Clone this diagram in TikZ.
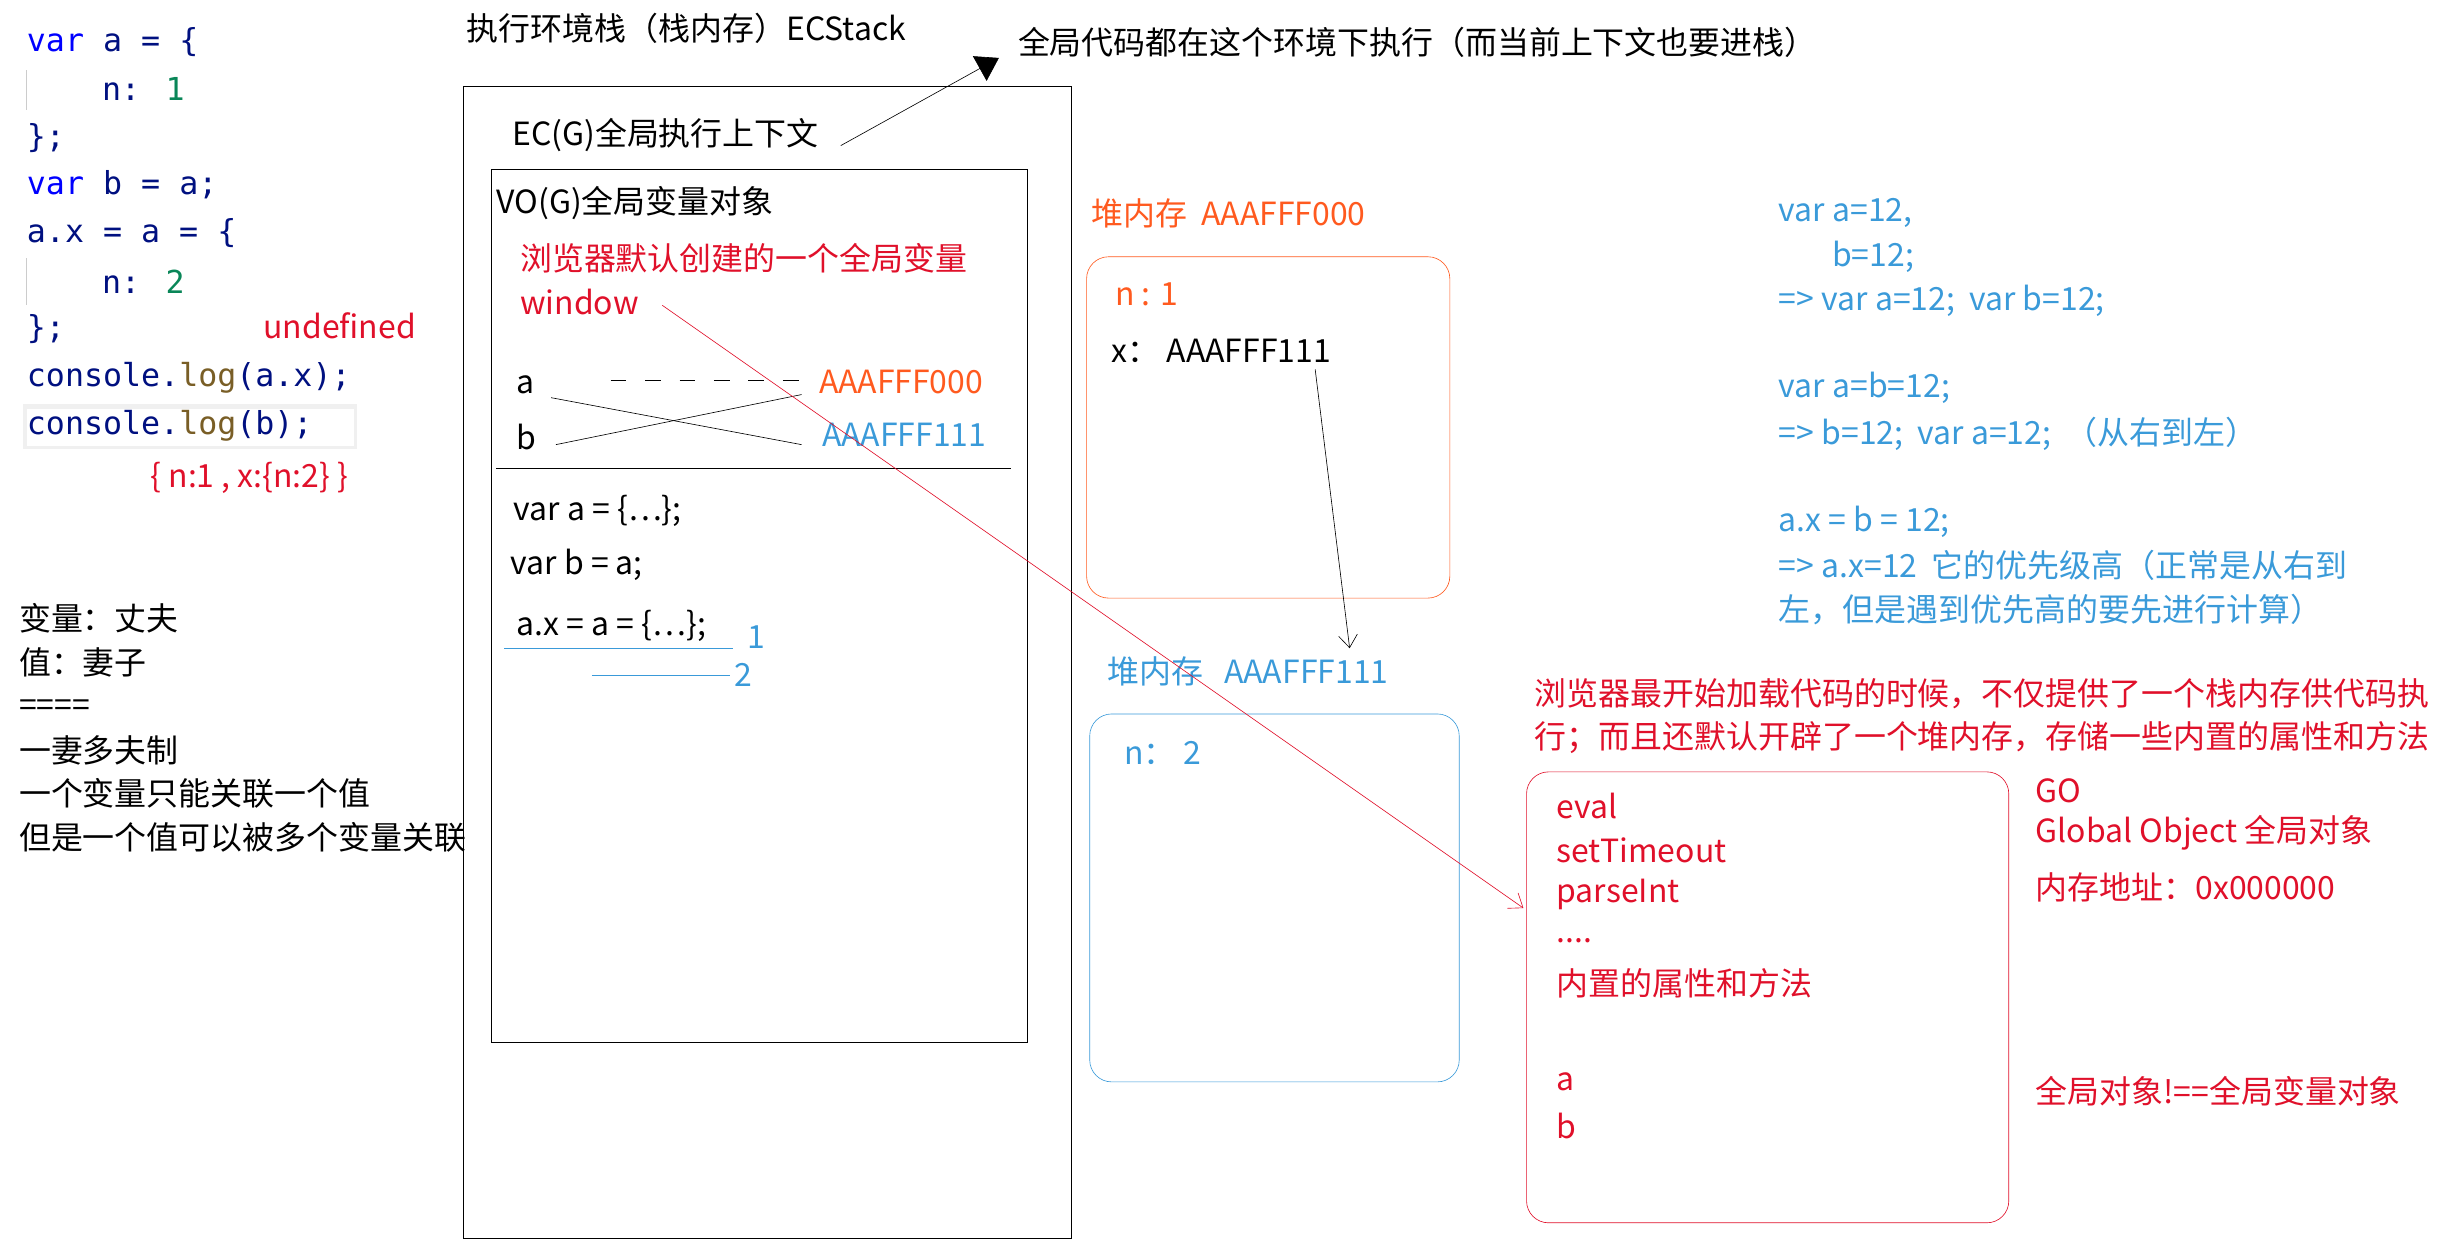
\documentclass[tikz,border=0pt]{standalone}
\usepackage{fontspec}
\setmainfont{Noto Sans CJK SC}
\newfontfamily\codefont{DejaVu Sans Mono}
\usetikzlibrary{arrows.meta}
\definecolor{cblue}{HTML}{3A9AD9}
\definecolor{corange}{HTML}{FF5A1F}
\definecolor{cred}{HTML}{E0102A}
\definecolor{kw}{HTML}{0000FF}
\definecolor{num}{HTML}{098658}
\definecolor{fn}{HTML}{795E26}
\definecolor{idn}{HTML}{001080}
\tikzset{
 t/.style={anchor=west,inner sep=0pt,font=\fontsize{20.4}{22}\selectfont},
 cd/.style={anchor=west,inner sep=0pt,font=\codefont\fontsize{20.2}{22}\selectfont,text=idn},
}
\begin{document}
\begin{tikzpicture}[x=1pt,y=-1pt]
\useasboundingbox (0,0) rectangle (1568,799);
% code
\fill[gray!12] (15,258) rectangle (228,287);
\fill[white] (17,261) rectangle (226,285);
\draw[gray!40] (17,45) -- (17,70) (17,165) -- (17,195);
\node[cd] (c1) at (17,27) {\textcolor{kw}{var} a = \{};
\node[cd] (c2) at (65,57) {n: \textcolor{num}{1}};
\node[cd] (c3) at (17,88) {\};};
\node[cd] (c4) at (17,118) {\textcolor{kw}{var} b = a;};
\node[cd] (c5) at (17,149) {a.x = a = \{};
\node[cd] (c6) at (65,180) {n: \textcolor{num}{2}};
\node[cd] (c7) at (17,210) {\};};
\node[cd] (c8) at (17,241) {console.\textcolor{fn}{log}(a.x);};
\node[cd] (c9) at (17,272) {console.\textcolor{fn}{log}(b);};
\node[t,text=cred] (undef) at (168,208) {undefined};
\node[t,text=cred] (res) at (96,305) {\{ n:1 , x:\{n:2\} \}};
% left notes
\node[t] (l1) at (12,395) {变量：丈夫};
\node[t] (l2) at (12,423) {值：妻子};
\node[t] (l3) at (12,452) {====};
\node[t] (l4) at (12,479) {一妻多夫制};
\node[t] (l5) at (12,507) {一个变量只能关联一个值};
\node[t] (l6) at (12,535) {但是一个值可以被多个变量关联};
% stack
\node[t] (title) at (298,18) {执行环境栈（栈内存）ECStack};
\draw (296,55) rectangle (684,791);
\node[t] (ecg) at (327,86) {EC(G)全局执行上下文};
\coordinate (arrS) at (537,93);
\coordinate (arrE) at (638,37);
\draw[-{Triangle[length=14pt,width=18pt]}] (arrS) -- (arrE);
\node[t] (glob) at (650,27) {全局代码都在这个环境下执行（而当前上下文也要进栈）};
\draw (314,108) rectangle (656,666);
\node[t] (vog) at (317,130) {VO(G)全局变量对象};
\node[t,text=cred] (brw) at (332,165) {浏览器默认创建的一个全局变量};
\node[t,text=cred] (win) at (332,193) {window};
\node[t] (va) at (330,246) {a};
\node[t] (vb) at (330,279) {b};
\node[t,text=corange] (ad0) at (523,244) {AAAFFF000};
\node[t,text=cblue] (ad1) at (525,278) {AAAFFF111};
\draw[dash pattern=on 10pt off 12pt] (390,243) -- (512,243);
\draw[thin] (352,254) -- (512,284);
\draw[thin] (355,284) -- (512,252);
\draw (317,299) -- (646,299);
\node[t] (s1) at (328,326) {var a = \{…\};};
\node[t] (s2) at (326,361) {var b = a;};
\node[t] (s3) at (330,400) {a.x = a = \{…\};};
\draw[cblue] (322,414) -- (468,414);
\draw[cblue] (378,431) -- (466,431);
\node[t,text=cblue] (n1) at (477,407) {1};
\node[t,text=cblue] (n2) at (469,431) {2};
% heap 1
\node[t,text=corange] (h1) at (697,136) {堆内存\ \ AAAFFF000};
\draw[corange,rounded corners=14pt] (694,164) rectangle (926,382);
\node[t,text=corange] (h1n) at (712,188) {n : 1};
\node[t] (h1x) at (710,224) {x： AAAFFF111};
\coordinate (hx) at (840,236);
\coordinate (h2top) at (862,414);
\draw[thin,-{Straight Barb[length=8pt,width=12pt]}] (hx) -- (h2top);
% heap 2
\node[t,text=cblue] (h2) at (707,429) {堆内存\ \ \ AAAFFF111};
\draw[cblue,rounded corners=14pt] (696,456) rectangle (932,691);
\node[t,text=cblue] (h2n) at (718,481) {n： 2};
% GO
\node[t,text=cred] (g1) at (980,443) {浏览器最开始加载代码的时候，不仅提供了一个栈内存供代码执};
\node[t,text=cred] (g2) at (980,471) {行；而且还默认开辟了一个堆内存，存储一些内置的属性和方法};
\draw[cred,rounded corners=14pt] (975,493) rectangle (1283,781);
\coordinate (goin) at (973,580);
\draw[cred,thin,-{Straight Barb[length=8pt,width=12pt]}] (423,195) -- (goin);
\node[t,text=cred] (e1) at (994,515) {eval};
\node[t,text=cred] (e2) at (994,543) {setTimeout};
\node[t,text=cred] (e3) at (994,571) {parseInt};
\node[t,text=cred] (e4) at (994,601) {....};
\node[t,text=cred] (e5) at (994,628) {内置的属性和方法};
\node[t,text=cred] (e6) at (994,691) {a};
\node[t,text=cred] (e7) at (994,719) {b};
\node[t,text=cred] (r1) at (1300,505) {GO};
\node[t,text=cred] (r2) at (1300,532) {Global Object 全局对象};
\node[t,text=cred] (r3) at (1300,567) {内存地址：0x000000};
\node[t,text=cred] (r4) at (1300,697) {全局对象!==全局变量对象};
% right blue
\node[t,text=cblue] (b1) at (1136,136) {var a=12,};
\node[t,text=cblue] (b2) at (1170,164) {b=12;};
\node[t,text=cblue] (b3) at (1136,192) {=> var a=12;\ \ var b=12;};
\node[t,text=cblue] (b4) at (1136,248) {var a=b=12;};
\node[t,text=cblue] (b5) at (1136,277) {=> b=12;\ \ var a=12;\ \ （从右到左）};
\node[t,text=cblue] (b6) at (1136,333) {a.x = b = 12;};
\node[t,text=cblue] (b7) at (1136,361) {=> a.x=12\ \ 它的优先级高（正常是从右到};
\node[t,text=cblue] (b8) at (1136,389) {左，但是遇到优先高的要先进行计算）};
\end{tikzpicture}
\end{document}
